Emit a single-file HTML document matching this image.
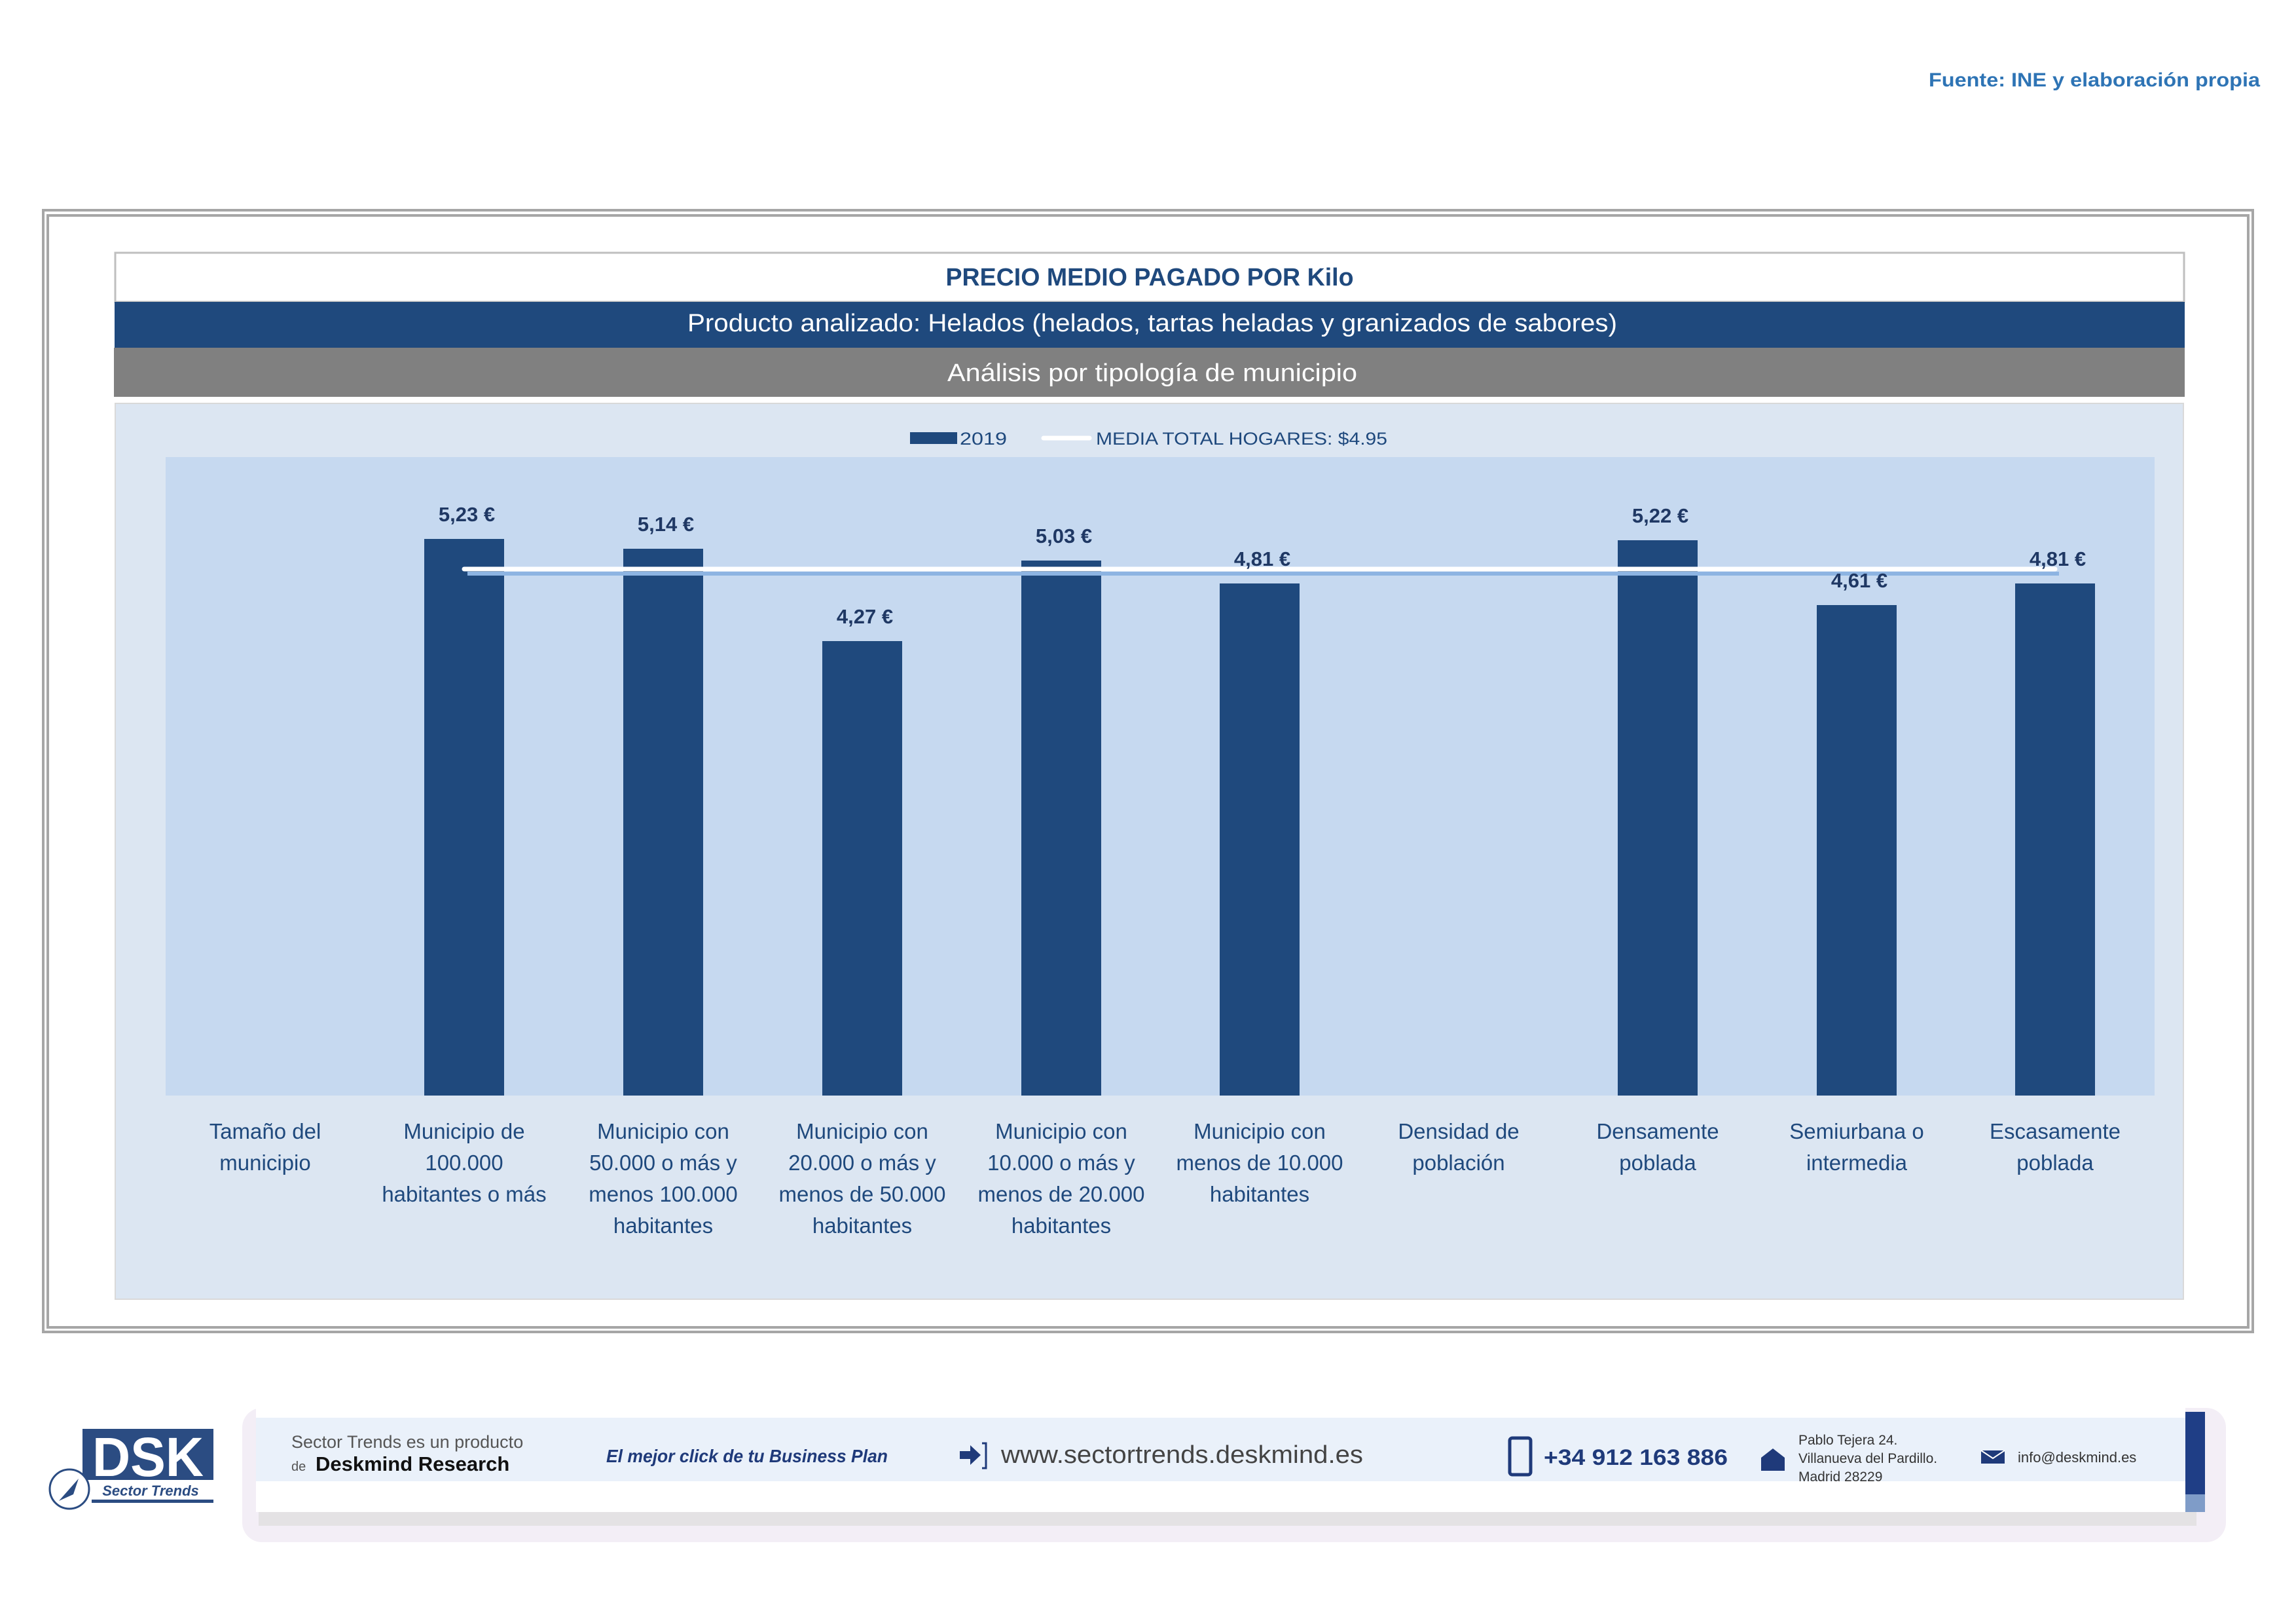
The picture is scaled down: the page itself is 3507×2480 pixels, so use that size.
<!DOCTYPE html>
<html><head><meta charset="utf-8"><style>
html,body{margin:0;padding:0;background:#fff;}
svg{display:block;}
text{font-family:"Liberation Sans",sans-serif;}
</style></head><body>
<svg width="3507" height="2480" viewBox="0 0 3507 2480" xmlns="http://www.w3.org/2000/svg">
<rect width="3507" height="2480" fill="#fff"/>
<text x="3452" y="132" text-anchor="end" font-size="30" font-weight="bold" fill="#2E74B5" textLength="506" lengthAdjust="spacingAndGlyphs">Fuente: INE y elaboración propia</text>

<rect x="66" y="321" width="3375" height="1713" fill="none" stroke="#A6A6A6" stroke-width="4"/>
<rect x="73" y="329" width="3361" height="1698" fill="none" stroke="#A6A6A6" stroke-width="4"/>

<rect x="176" y="386" width="3160" height="75" fill="#fff" stroke="#BFBFBF" stroke-width="3"/>
<text x="1756" y="436" text-anchor="middle" font-size="38" font-weight="bold" fill="#1F497D" textLength="623" lengthAdjust="spacingAndGlyphs">PRECIO MEDIO PAGADO POR Kilo</text>
<rect x="175" y="461" width="3162" height="70" fill="#1F497D"/>
<text x="1760" y="506" text-anchor="middle" font-size="38" fill="#fff" textLength="1420" lengthAdjust="spacingAndGlyphs">Producto analizado: Helados (helados, tartas heladas y granizados de sabores)</text>
<rect x="174" y="531" width="3163" height="75" fill="#808080"/>
<text x="1760" y="582" text-anchor="middle" font-size="38" fill="#fff" textLength="626" lengthAdjust="spacingAndGlyphs">Análisis por tipología de municipio</text>

<rect x="176" y="616" width="3159" height="1368" fill="#DCE6F2" stroke="#D9D9D9" stroke-width="2"/>
<rect x="253" y="698" width="3038" height="975" fill="#C6D9F0"/>

<rect x="1390" y="660" width="72" height="18" fill="#1F497D"/>
<text x="1466" y="679" font-size="27" fill="#1F497D" textLength="72" lengthAdjust="spacingAndGlyphs">2019</text>
<line x1="1594" y1="669" x2="1664" y2="669" stroke="#fff" stroke-width="7" stroke-linecap="round"/>
<text x="1674" y="679" font-size="27" fill="#1F497D" textLength="445" lengthAdjust="spacingAndGlyphs">MEDIA TOTAL  HOGARES:  $4.95</text>

<g fill="#1F497D">
<rect x="648" y="823" width="122" height="850"/>
<rect x="952" y="838" width="122" height="835"/>
<rect x="1256" y="979" width="122" height="694"/>
<rect x="1560" y="856" width="122" height="817"/>
<rect x="1863" y="891" width="122" height="782"/>
<rect x="2471" y="825" width="122" height="848"/>
<rect x="2775" y="924" width="122" height="749"/>
<rect x="3078" y="891" width="122" height="782"/>
</g>
<line x1="714" y1="876" x2="3145" y2="876" stroke="#8DB4E2" stroke-width="6"/>
<line x1="709" y1="869" x2="3139" y2="869" stroke="#fff" stroke-width="7" stroke-linecap="round"/>

<g font-size="31" font-weight="bold" fill="#1F3864" text-anchor="middle">
<text x="713" y="796">5,23 €</text>
<text x="1017" y="811">5,14 €</text>
<text x="1321" y="952">4,27 €</text>
<text x="1625" y="829">5,03 €</text>
<text x="1928" y="864">4,81 €</text>
<text x="2536" y="798">5,22 €</text>
<text x="2840" y="897">4,61 €</text>
<text x="3143" y="864">4,81 €</text>
</g>

<g font-size="33" fill="#1F497D" text-anchor="middle">
<text x="405" y="1739">Tamaño del</text><text x="405" y="1787">municipio</text>
<text x="709" y="1739">Municipio de</text><text x="709" y="1787">100.000</text><text x="709" y="1835">habitantes o más</text>
<text x="1013" y="1739">Municipio con</text><text x="1013" y="1787">50.000 o más y</text><text x="1013" y="1835">menos 100.000</text><text x="1013" y="1883">habitantes</text>
<text x="1317" y="1739">Municipio con</text><text x="1317" y="1787">20.000 o más y</text><text x="1317" y="1835">menos de 50.000</text><text x="1317" y="1883">habitantes</text>
<text x="1621" y="1739">Municipio con</text><text x="1621" y="1787">10.000 o más y</text><text x="1621" y="1835">menos de 20.000</text><text x="1621" y="1883">habitantes</text>
<text x="1924" y="1739">Municipio con</text><text x="1924" y="1787">menos de 10.000</text><text x="1924" y="1835">habitantes</text>
<text x="2228" y="1739">Densidad de</text><text x="2228" y="1787">población</text>
<text x="2532" y="1739">Densamente</text><text x="2532" y="1787">poblada</text>
<text x="2836" y="1739">Semiurbana o</text><text x="2836" y="1787">intermedia</text>
<text x="3139" y="1739">Escasamente</text><text x="3139" y="1787">poblada</text>
</g>

<!-- footer -->
<rect x="370" y="2150" width="3030" height="205" rx="30" fill="#F3EEF6"/>
<rect x="395" y="2300" width="2960" height="30" fill="#DDDDDD" opacity="0.7"/>
<rect x="391" y="2148" width="2947" height="161" fill="#fff"/>
<rect x="391" y="2165" width="2947" height="97" fill="#EAF1FA"/>
<rect x="3338" y="2156" width="30" height="126" fill="#1F3E86"/>
<rect x="3338" y="2282" width="30" height="27" fill="#7F9CC8"/>

<rect x="126" y="2182" width="200" height="78" fill="#2B4C82"/>
<text x="226" y="2254" text-anchor="middle" font-size="84" font-weight="bold" fill="#fff" textLength="170" lengthAdjust="spacingAndGlyphs">DSK</text>
<text x="230" y="2284" text-anchor="middle" font-size="22" font-style="italic" font-weight="bold" fill="#2B4C82">Sector Trends</text>
<rect x="140" y="2290" width="186" height="5" fill="#2B4C82"/>
<circle cx="106" cy="2274" r="30" fill="#fff" stroke="#2B4C82" stroke-width="3"/>
<path d="M90 2292 L120 2258 L112 2282 Z" fill="#2B4C82"/>

<text x="445" y="2211" font-size="27" fill="#555">Sector Trends es un producto</text>
<text x="445" y="2246" font-size="20" fill="#555">de</text>
<text x="482" y="2246" font-size="31" font-weight="bold" fill="#111">Deskmind Research</text>
<text x="926" y="2233" font-size="28" font-weight="bold" font-style="italic" fill="#1F3A7A" textLength="430" lengthAdjust="spacingAndGlyphs">El mejor click de tu Business Plan</text>
<path d="M1466 2216 h16 v-9 l16 15 l-16 15 v-9 h-16 z" fill="#1F3A7A"/>
<path d="M1500 2204 h6 v38 h-6" fill="none" stroke="#1F3A7A" stroke-width="3"/>
<text x="1529" y="2234" font-size="38" fill="#444" textLength="553" lengthAdjust="spacingAndGlyphs">www.sectortrends.deskmind.es</text>
<rect x="2306" y="2196" width="32" height="56" rx="4" fill="none" stroke="#1F3A7A" stroke-width="5"/>
<text x="2358" y="2237" font-size="34" font-weight="bold" fill="#1F3A7A" textLength="281" lengthAdjust="spacingAndGlyphs">+34 912 163 886</text>
<path d="M2690 2226 l18 -14 l18 14 v20 h-36 z" fill="#1F3A7A"/>
<text x="2747" y="2206" font-size="21" fill="#333">Pablo Tejera 24.</text>
<text x="2747" y="2234" font-size="21" fill="#333">Villanueva del Pardillo.</text>
<text x="2747" y="2262" font-size="21" fill="#333">Madrid 28229</text>
<rect x="3026" y="2215" width="36" height="20" fill="#1F3A7A"/>
<path d="M3026 2215 l18 12 l18 -12" fill="none" stroke="#fff" stroke-width="2"/>
<text x="3082" y="2233" font-size="22" fill="#333">info@deskmind.es</text>
</svg>
</body></html>
